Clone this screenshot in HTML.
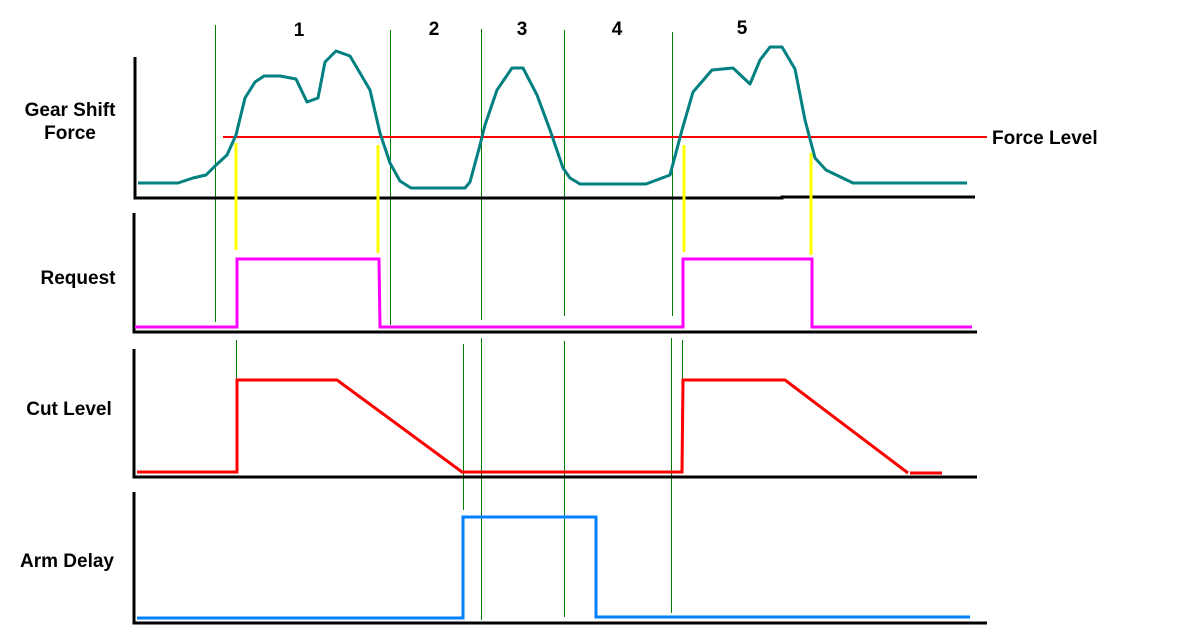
<!DOCTYPE html>
<html><head><meta charset="utf-8"><style>
html,body{margin:0;padding:0;background:#fff;}
svg{display:block}
text{font-family:"Liberation Sans",sans-serif;font-weight:bold;fill:#000}
</style></head><body>
<svg width="1195" height="634" viewBox="0 0 1195 634" xmlns="http://www.w3.org/2000/svg">
<g stroke="#008000" stroke-width="1" fill="none">
<line x1="215.5" y1="25" x2="215.5" y2="322"/>
<line x1="390.5" y1="30" x2="390.5" y2="325"/>
<line x1="481.5" y1="29" x2="481.5" y2="320"/>
<line x1="481.5" y1="338" x2="481.5" y2="620"/>
<line x1="564.5" y1="30" x2="564.5" y2="316"/>
<line x1="564.5" y1="341" x2="564.5" y2="617"/>
<line x1="672.5" y1="32" x2="672.5" y2="316"/>
<line x1="671.5" y1="338" x2="671.5" y2="613"/>
<line x1="236.5" y1="340" x2="236.5" y2="380"/>
<line x1="463.5" y1="344" x2="463.5" y2="510"/>
<line x1="682.5" y1="340" x2="682.5" y2="380"/>
</g>
<g stroke="#000" stroke-width="3" fill="none">
<polyline points="135,57 135,198 782,198 782,197 975,197"/>
<polyline points="134,213 134,332 977,332"/>
<polyline points="134,349 134,477 977,477"/>
<polyline points="134,492 134,623 987,623"/>
</g>
<line x1="223" y1="137" x2="987" y2="137" stroke="#ff0000" stroke-width="2"/>
<polyline fill="none" stroke="#008080" stroke-width="3" stroke-linejoin="round" points="138,183 178,183 193,178 206,175 215,166 227,155 236,135 245,98 255,82 264,76 280,76 296,79 307,102 318,98 325,62 336,51 350,56 370,90 380,133 390,163 400,181 411,188 465,188 470,182 480,145 485,125 497,90 512,68 523,68 537,95 550,130 563,168 570,178 580,184 646,184 670,175 682,130 693,92 712,70 733,68 750,84 760,60 770,47 782,47 795,69 805,120 815,158 826,170 853,183 967,183"/>
<g stroke="#ffff00" stroke-width="3">
<line x1="236" y1="143" x2="236" y2="250"/>
<line x1="378" y1="145" x2="378" y2="253"/>
<line x1="684" y1="145" x2="684" y2="252"/>
<line x1="811" y1="153" x2="811" y2="255"/>
</g>
<polyline fill="none" stroke="#ff00ff" stroke-width="3" points="135,327 237,327 237,259 379,259 380,327 683,327 683,259 812,259 812,327 972,327"/>
<polyline fill="none" stroke="#ff0000" stroke-width="3" points="137,472 237,472 237,380 337,380 462,472 682,472 683,380 785,380 908,473"/>
<line x1="910" y1="473" x2="942" y2="473" stroke="#ff0000" stroke-width="3"/>
<polyline fill="none" stroke="#0080ff" stroke-width="3" points="137,618 463,618 463,517 596,517 596,617 970,617"/>
<g font-size="19" text-anchor="middle">
<text x="70" y="116">Gear Shift</text>
<text x="70" y="139">Force</text>
<text x="78" y="284">Request</text>
<text x="69" y="415">Cut Level</text>
<text x="67" y="567">Arm Delay</text>
</g>
<text x="992" y="144" font-size="19">Force Level</text>
<g font-size="19" text-anchor="middle">
<text x="299" y="36">1</text>
<text x="434" y="35">2</text>
<text x="522" y="35">3</text>
<text x="617" y="35">4</text>
<text x="742" y="34">5</text>
</g>
</svg>
</body></html>
